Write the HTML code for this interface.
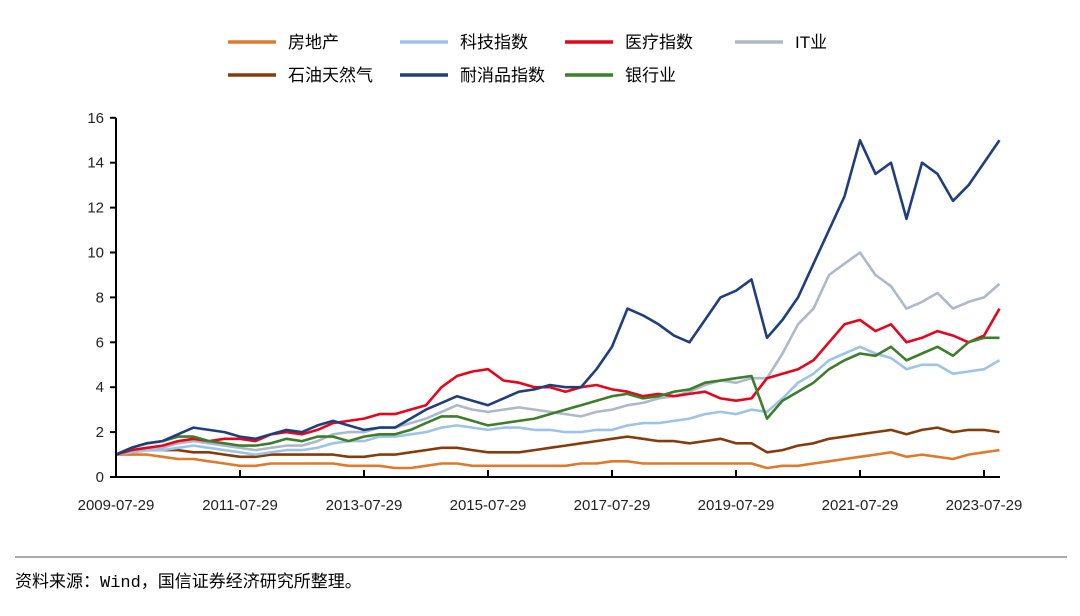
<!DOCTYPE html>
<html><head><meta charset="utf-8"><style>
body{margin:0;background:#fff;width:1080px;height:611px;overflow:hidden;font-family:"Liberation Sans","Noto Sans CJK SC",sans-serif}
</style></head><body>
<svg width="1080" height="611" xmlns="http://www.w3.org/2000/svg">
<g id="legend"></g>
<g id="plot"></g>
<line x1="15" y1="557" x2="1067" y2="557" stroke="#555" stroke-width="1"/>
<text x="15" y="587" font-size="17" fill="#000" font-family="'Liberation Mono','Noto Sans CJK SC',monospace">资料来源：Wind，国信证券经济研究所整理。</text>
</svg>
<script>
const years=[2009.58,2009.83,2010.08,2010.33,2010.58,2010.83,2011.08,2011.33,2011.58,2011.83,2012.08,2012.33,2012.58,2012.83,2013.08,2013.33,2013.58,2013.83,2014.08,2014.33,2014.58,2014.83,2015.08,2015.33,2015.58,2015.83,2016.08,2016.33,2016.58,2016.83,2017.08,2017.33,2017.58,2017.83,2018.08,2018.33,2018.58,2018.83,2019.08,2019.33,2019.58,2019.83,2020.08,2020.33,2020.58,2020.83,2021.08,2021.33,2021.58,2021.83,2022.08,2022.33,2022.58,2022.83,2023.08,2023.33,2023.58,2023.83];
const realEstate=[1.0,1.0,1.0,0.9,0.8,0.8,0.7,0.6,0.5,0.5,0.6,0.6,0.6,0.6,0.6,0.5,0.5,0.5,0.4,0.4,0.5,0.6,0.6,0.5,0.5,0.5,0.5,0.5,0.5,0.5,0.6,0.6,0.7,0.7,0.6,0.6,0.6,0.6,0.6,0.6,0.6,0.6,0.4,0.5,0.5,0.6,0.7,0.8,0.9,1.0,1.1,0.9,1.0,0.9,0.8,1.0,1.1,1.2];
const tech=[1.0,1.1,1.2,1.2,1.3,1.4,1.3,1.2,1.1,1.0,1.1,1.2,1.2,1.3,1.5,1.6,1.6,1.8,1.8,1.9,2.0,2.2,2.3,2.2,2.1,2.2,2.2,2.1,2.1,2.0,2.0,2.1,2.1,2.3,2.4,2.4,2.5,2.6,2.8,2.9,2.8,3.0,2.9,3.5,4.2,4.6,5.2,5.5,5.8,5.5,5.3,4.8,5.0,5.0,4.6,4.7,4.8,5.2];
const medical=[1.0,1.2,1.3,1.4,1.6,1.7,1.6,1.7,1.7,1.6,1.9,2.0,1.9,2.1,2.4,2.5,2.6,2.8,2.8,3.0,3.2,4.0,4.5,4.7,4.8,4.3,4.2,4.0,4.0,3.8,4.0,4.1,3.9,3.8,3.6,3.7,3.6,3.7,3.8,3.5,3.4,3.5,4.4,4.6,4.8,5.2,6.0,6.8,7.0,6.5,6.8,6.0,6.2,6.5,6.3,6.0,6.3,7.5];
const itIndustry=[1.0,1.2,1.3,1.3,1.5,1.6,1.5,1.4,1.3,1.2,1.3,1.4,1.4,1.6,1.9,2.0,2.0,2.2,2.2,2.4,2.6,2.9,3.2,3.0,2.9,3.0,3.1,3.0,2.9,2.8,2.7,2.9,3.0,3.2,3.3,3.5,3.6,3.8,4.1,4.3,4.2,4.4,4.4,5.5,6.8,7.5,9.0,9.5,10.0,9.0,8.5,7.5,7.8,8.2,7.5,7.8,8.0,8.6];
const oilGas=[1.0,1.1,1.2,1.2,1.2,1.1,1.1,1.0,0.9,0.9,1.0,1.0,1.0,1.0,1.0,0.9,0.9,1.0,1.0,1.1,1.2,1.3,1.3,1.2,1.1,1.1,1.1,1.2,1.3,1.4,1.5,1.6,1.7,1.8,1.7,1.6,1.6,1.5,1.6,1.7,1.5,1.5,1.1,1.2,1.4,1.5,1.7,1.8,1.9,2.0,2.1,1.9,2.1,2.2,2.0,2.1,2.1,2.0];
const consumer=[1.0,1.3,1.5,1.6,1.9,2.2,2.1,2.0,1.8,1.7,1.9,2.1,2.0,2.3,2.5,2.3,2.1,2.2,2.2,2.6,3.0,3.3,3.6,3.4,3.2,3.5,3.8,3.9,4.1,4.0,4.0,4.8,5.8,7.5,7.2,6.8,6.3,6.0,7.0,8.0,8.3,8.8,6.2,7.0,8.0,9.5,11.0,12.5,15.0,13.5,14.0,11.5,14.0,13.5,12.3,13.0,14.0,15.0];
const bank=[1.0,1.3,1.5,1.6,1.8,1.8,1.6,1.5,1.4,1.4,1.5,1.7,1.6,1.8,1.8,1.6,1.8,1.9,1.9,2.1,2.4,2.7,2.7,2.5,2.3,2.4,2.5,2.6,2.8,3.0,3.2,3.4,3.6,3.7,3.5,3.6,3.8,3.9,4.2,4.3,4.4,4.5,2.6,3.4,3.8,4.2,4.8,5.2,5.5,5.4,5.8,5.2,5.5,5.8,5.4,6.0,6.2,6.2];
const yTicks=[0,2,4,6,8,10,12,14,16];
const xTickYears=[2009.58,2011.58,2013.58,2015.58,2017.58,2019.58,2021.58,2023.58];
const xTickLabels=["2009-07-29","2011-07-29","2013-07-29","2015-07-29","2017-07-29","2019-07-29","2021-07-29","2023-07-29"];
const seriesNames=["房地产","科技指数","医疗指数","IT业","石油天然气","耐消品指数","银行业"];

const NS="http://www.w3.org/2000/svg";
const X0=116,Y0=477;
const xs=y=>X0+(y-2009.58)*62;
const ys=v=>Y0-v*22.45;
function mk(t,a,p){const e=document.createElementNS(NS,t);for(const k in a)e.setAttribute(k,a[k]);p.appendChild(e);return e;}
const plot=document.getElementById('plot'),legend=document.getElementById('legend');
const series=[
 {d:oilGas,c:"#843c0c",n:"series-oil-gas"},
 {d:realEstate,c:"#dd7a2c",n:"series-real-estate"},
 {d:tech,c:"#9dc3e6",n:"series-tech"},
 {d:itIndustry,c:"#adb9ca",n:"series-it"},
 {d:medical,c:"#e4061c",n:"series-medical"},
 {d:bank,c:"#3e7d2b",n:"series-bank"},
 {d:consumer,c:"#203f7a",n:"series-consumer"}];
series.forEach(s=>{
 const p=mk('polyline',{points:s.d.map((v,i)=>xs(years[i]).toFixed(1)+','+ys(v).toFixed(1)).join(' '),fill:'none',stroke:s.c,'stroke-width':2.6,'stroke-linejoin':'round'},plot);
 
 
});
const ax=mk('path',{d:`M${X0},${ys(16)}V${Y0}H1000`,stroke:'#000','stroke-width':2,fill:'none'},plot);


yTicks.forEach(v=>{
 mk('line',{x1:X0-6,x2:X0,y1:ys(v),y2:ys(v),stroke:'#000','stroke-width':2},plot);
 const t=mk('text',{x:X0-12,y:ys(v)+5,'text-anchor':'end','font-size':15,fill:'#222'},plot);
 t.textContent=v;
 
 
});
xTickYears.forEach((y,i)=>{
 mk('line',{x1:xs(y),x2:xs(y),y1:Y0,y2:Y0-7,stroke:'#000','stroke-width':2},plot);
 const t=mk('text',{x:xs(y),y:Y0+33,'text-anchor':'middle','font-size':15,fill:'#222'},plot);
 t.textContent=xTickLabels[i];
 
 
});
const leg=[[228,42,"#dd7a2c"],[400,42,"#9dc3e6"],[565,42,"#e4061c"],[735,42,"#adb9ca"],[228,75,"#843c0c"],[400,75,"#203f7a"],[565,75,"#3e7d2b"]];
leg.forEach((l,i)=>{
 const g=mk('g',{},legend);
 
 
 mk('line',{x1:l[0],x2:l[0]+48,y1:l[1],y2:l[1],stroke:l[2],'stroke-width':3.5},g);
 const t=mk('text',{x:l[0]+60,y:l[1]+6,'font-size':17,fill:'#000'},g);
 t.textContent=seriesNames[i];
});
</script>
</body></html>
